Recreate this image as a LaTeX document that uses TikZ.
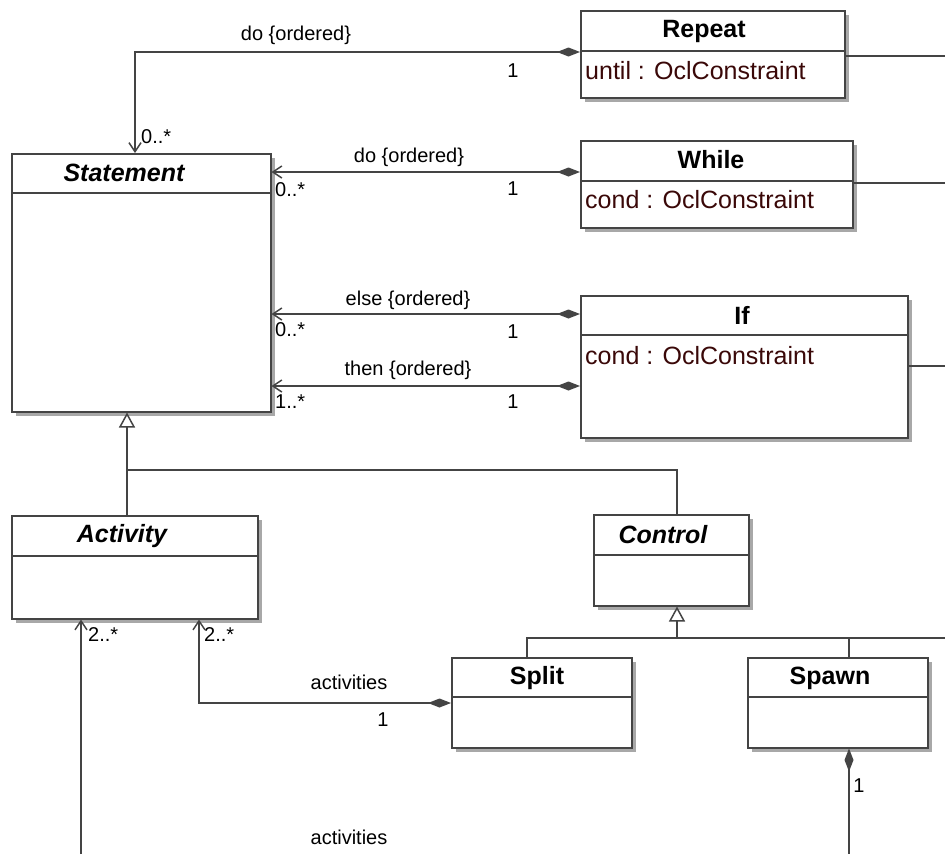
\documentclass[tikz,border=0pt]{standalone}
\usepackage{fontspec}
\setmainfont{Liberation Sans}
\usetikzlibrary{arrows.meta,calc,shadows}

\definecolor{linegray}{HTML}{444444}
\definecolor{attrcolor}{HTML}{3A0808}
\definecolor{shadowgray}{HTML}{A8A8A8}

\tikzset{
  clsbox/.style={draw=linegray, line width=1.5pt, fill=white, inner sep=0pt,
    anchor=north west,
    drop shadow={shadow xshift=4.5pt, shadow yshift=-4.5pt, fill=shadowgray, opacity=1}},
  divider/.style={draw=linegray, line width=1.5pt},
  clsname/.style={font=\fontsize{25}{28}\selectfont\bfseries, inner sep=0pt},
  absname/.style={font=\fontsize{25}{28}\selectfont\bfseries\itshape, inner sep=0pt},
  attr/.style={font=\fontsize{25}{28}\selectfont, text=attrcolor, anchor=west, inner sep=0pt},
  lbl/.style={font=\fontsize{20}{23}\selectfont, inner sep=0pt},
  conn/.style={draw=linegray, line width=1.5pt},
  comp/.style={conn, {Diamond[length=23pt,width=9pt,fill=linegray]}-{Straight Barb[length=9pt,width=12pt]}},
  compend/.style={conn, {Diamond[length=23pt,width=9pt,fill=linegray]}-},
  navig/.style={conn, -{Straight Barb[length=9pt,width=12pt]}},
  gen/.style={conn, -{Triangle[open,length=15pt,width=16pt,fill=white]}},
}

\begin{document}
\begin{tikzpicture}[x=1pt,y=-1pt]
\useasboundingbox (0,0) rectangle (945,854);

% ---------- classes ----------
\node[clsbox, minimum width=264pt, minimum height=87pt]  (repeat)    at (580,10)  {};
\node[clsbox, minimum width=272pt, minimum height=87pt]  (while)     at (580,140) {};
\node[clsbox, minimum width=327pt, minimum height=142pt] (if)        at (580,295) {};
\node[clsbox, minimum width=259pt, minimum height=258pt] (statement) at (11,153)  {};
\node[clsbox, minimum width=246pt, minimum height=103pt] (activity)  at (11,515)  {};
\node[clsbox, minimum width=155pt, minimum height=91pt]  (control)   at (593,514) {};
\node[clsbox, minimum width=180pt, minimum height=90pt]  (split)     at (451,657) {};
\node[clsbox, minimum width=180pt, minimum height=90pt]  (spawn)     at (747,657) {};

% compartment dividers
\foreach \c/\d in {repeat/41, while/41, if/40, statement/40, activity/41, control/41, split/40, spawn/40}
  \draw[divider] ($(\c.north west)+(0,\d)$) -- ($(\c.north east)+(0,\d)$);

% class names and attributes
\node[clsname] (repeat-n)    at (704,31)  {Repeat};
\node[attr]    (repeat-a)    at (585,71)  {until : OclConstraint};
\node[clsname] (while-n)     at (711,160) {While};
\node[attr]    (while-a)     at (585,200) {cond : OclConstraint};
\node[clsname] (if-n)        at (742,315) {If};
\node[attr]    (if-a)        at (585,356) {cond : OclConstraint};
\node[absname] (statement-n) at (124,173) {Statement};
\node[absname] (activity-n)  at (122,536) {Activity};
\node[absname] (control-n)   at (663,535) {Control};
\node[clsname] (split-n)     at (537,678) {Split};
\node[clsname] (spawn-n)     at (830,678) {Spawn};

% ---------- compositions towards Statement ----------
\coordinate (rpA) at ($(repeat.north west)+(0,42)$);
\coordinate (stT) at ($(statement.north west)+(124,0)$);
\draw[comp] (rpA) -| (stT);
\node[lbl] (rp-role) at (296,35)  {do \{ordered\}};
\node[lbl, anchor=west] (rp-m1) at (141,137) {0..*};
\node[lbl] (rp-m2) at (513,71) {1};

\coordinate (whA) at ($(while.north west)+(0,32)$);
\draw[comp] (whA) -- (whA -| statement.east);
\node[lbl] (wh-role) at (409,157) {do \{ordered\}};
\node[lbl, anchor=west] (wh-m1) at (275,190) {0..*};
\node[lbl] (wh-m2) at (513,189) {1};

\coordinate (ifE) at ($(if.north west)+(0,19)$);
\draw[comp] (ifE) -- (ifE -| statement.east);
\node[lbl] (else-role) at (408,300) {else \{ordered\}};
\node[lbl, anchor=west] (else-m1) at (275,330) {0..*};
\node[lbl] (else-m2) at (513,332) {1};

\coordinate (ifT) at ($(if.north west)+(0,91)$);
\draw[comp] (ifT) -- (ifT -| statement.east);
\node[lbl] (then-role) at (408,370) {then \{ordered\}};
\node[lbl, anchor=west] (then-m1) at (275,402) {1..*};
\node[lbl] (then-m2) at (513,402) {1};

% ---------- associations running off to the right ----------
\coordinate (rpR) at ($(repeat.north east)+(0,46)$);
\coordinate (rpX) at (945,56);
\draw[conn] (rpR) -- (rpX);
\coordinate (whR) at ($(while.north east)+(0,43)$);
\coordinate (whX) at (945,183);
\draw[conn] (whR) -- (whX);
\coordinate (ifR) at ($(if.north east)+(0,71)$);
\coordinate (ifX) at (945,366);
\draw[conn] (ifR) -- (ifX);

% ---------- generalisation to Statement ----------
\coordinate (stB)  at ($(statement.south west)+(116,0)$);
\coordinate (acT)  at ($(activity.north west)+(116,0)$);
\coordinate (ctT)  at ($(control.north west)+(84,0)$);
\coordinate (gJ)   at (stB |- 0,470);
\draw[gen] (acT) -- (gJ) -- (stB);
\draw[conn] (ctT) |- (gJ);

% ---------- generalisation to Control ----------
\coordinate (ctB)  at ($(control.south west)+(84,0)$);
\coordinate (spT)  at ($(split.north west)+(76,0)$);
\coordinate (swT)  at ($(spawn.north west)+(102,0)$);
\coordinate (hJ)   at (ctB |- 0,638);
\coordinate (hX)   at (945,638);
\draw[gen] (hJ) -- (ctB);
\draw[conn] (spT) |- (hX);
\draw[conn] (swT) -- (swT |- hX);

% ---------- Split / Spawn to Activity ----------
\coordinate (slA) at ($(split.north west)+(0,46)$);
\coordinate (acB) at ($(activity.south west)+(188,0)$);
\draw[comp] (slA) -| (acB);
\node[lbl] (sl-role) at (349,682) {activities};
\node[lbl, anchor=west] (sl-m1) at (204,635) {2..*};
\node[lbl] (sl-m2) at (383,720) {1};

\coordinate (swB) at ($(spawn.south west)+(102,0)$);
\coordinate (swX) at (849,854);
\draw[compend] (swB) -- (swX);
\node[lbl] (sw-m2) at (859,786) {1};

\coordinate (acL) at ($(activity.south west)+(70,0)$);
\coordinate (acX) at (81,854);
\draw[navig] (acX) -- (acL);
\node[lbl, anchor=west] (sw-m1) at (88,635) {2..*};
\node[lbl] (sw-role) at (349,837) {activities};
\end{tikzpicture}
\end{document}
